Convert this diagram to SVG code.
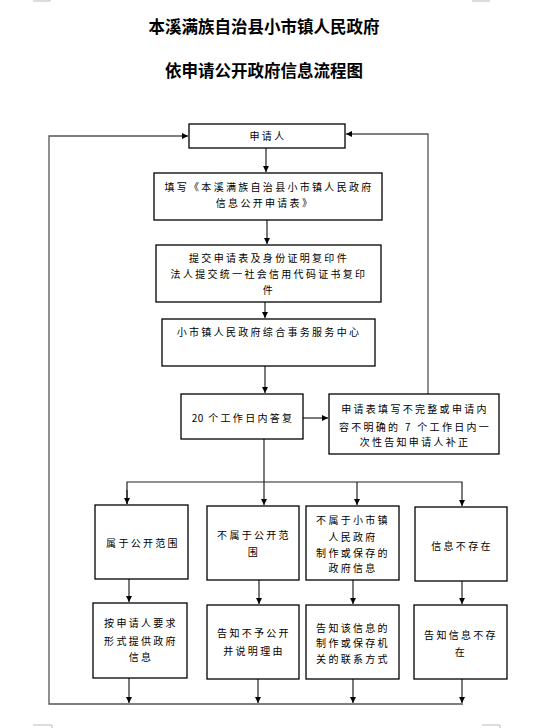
<svg xmlns="http://www.w3.org/2000/svg" width="534" height="728" viewBox="0 0 534 728">
<defs>
<marker id="ah" viewBox="0 0 10 10" refX="10" refY="5" markerWidth="6" markerHeight="6" markerUnits="userSpaceOnUse" orient="auto">
<path d="M0,0 L10,5 L0,10 z" fill="#000"/>
</marker>
<style>
.box{fill:#fff;stroke:#000;stroke-width:1.3}
.t{font-family:"Noto Sans CJK SC","DejaVu Sans",sans-serif;font-size:10px;letter-spacing:2.3px;fill:#000;text-anchor:middle}
.n{letter-spacing:0.5px}
.title{font-family:"Noto Sans CJK SC","DejaVu Sans",sans-serif;font-size:16.5px;font-weight:bold;fill:#000;text-anchor:middle}
.c{fill:none;stroke:#222;stroke-width:1.2}
.fb{fill:none;stroke:#555;stroke-width:1.3}
.mark{fill:none;stroke:#bbb;stroke-width:1}
</style>
</defs>
<rect width="534" height="728" fill="#fff"/>
<g id="marks">
<polyline class="mark" points="33,1 50,1 50,0"/>
<polyline class="mark" points="472,1 490,1"/>
<polyline class="mark" points="33,725 52,725 52,728"/>
<polyline class="mark" points="482,725 500,725 500,728"/>
</g>
<g id="title">
<text class="title" x="264" y="33">本溪满族自治县小市镇人民政府</text>
<text class="title" x="264" y="77">依申请公开政府信息流程图</text>
</g>
<g id="connectors">
<line class="c" x1="266" y1="148" x2="266" y2="172" marker-end="url(#ah)"/>
<line class="c" x1="267" y1="220" x2="267" y2="244" marker-end="url(#ah)"/>
<line class="c" x1="265" y1="302" x2="265" y2="318" marker-end="url(#ah)"/>
<line class="c" x1="265" y1="366" x2="265" y2="393" marker-end="url(#ah)"/>
<line class="c" x1="303" y1="418" x2="328" y2="418" marker-end="url(#ah)"/>
<polyline class="fb" points="428,394 428,134 346,134" marker-end="url(#ah)"/>
<polyline class="fb" points="463,704 49,704 49,136 188,136" marker-end="url(#ah)"/>
<line class="c" x1="264" y1="439" x2="264" y2="505" marker-end="url(#ah)"/>
<polyline class="c" points="127,504 127,482 462,482 462,506" marker-end="url(#ah)"/>
<line class="c" x1="127" y1="490" x2="127" y2="504" marker-end="url(#ah)"/>
<line class="c" x1="357" y1="482" x2="357" y2="505" marker-end="url(#ah)"/>
<line class="c" x1="129" y1="579" x2="129" y2="602" marker-end="url(#ah)"/>
<line class="c" x1="259" y1="580" x2="259" y2="604" marker-end="url(#ah)"/>
<line class="c" x1="353" y1="580" x2="353" y2="604" marker-end="url(#ah)"/>
<line class="c" x1="462" y1="581" x2="462" y2="604" marker-end="url(#ah)"/>
<line class="c" x1="129" y1="678" x2="129" y2="703" marker-end="url(#ah)"/>
<line class="c" x1="258" y1="679" x2="258" y2="703" marker-end="url(#ah)"/>
<line class="c" x1="353" y1="679" x2="353" y2="703" marker-end="url(#ah)"/>
<line class="c" x1="462" y1="679" x2="462" y2="703" marker-end="url(#ah)"/>
</g>
<g id="n-applicant">
<rect class="box" x="189" y="124" width="156" height="24"/>
<text class="t" x="268" y="140">申请人</text>
</g>
<g id="n-fill">
<rect class="box" x="154" y="173" width="228" height="47"/>
<text class="t" x="269" y="191">填写《本溪满族自治县小市镇人民政府</text>
<text class="t" x="265" y="207">信息公开申请表》</text>
</g>
<g id="n-submit">
<rect class="box" x="156" y="245" width="225" height="57"/>
<text class="t" x="269" y="262">提交申请表及身份证明复印件</text>
<text class="t" x="269" y="278">法人提交统一社会信用代码证书复印</text>
<text class="t" x="269" y="294">件</text>
</g>
<g id="n-center">
<rect class="box" x="162" y="319" width="213" height="47"/>
<text class="t" x="269" y="336">小市镇人民政府综合事务服务中心</text>
</g>
<g id="n-reply">
<rect class="box" x="181" y="394" width="122" height="45"/>
<text class="t" x="243" y="422"><tspan class="n">20</tspan> 个工作日内答复</text>
</g>
<g id="n-correct">
<rect class="box" x="329" y="394" width="170" height="60"/>
<text class="t" x="415" y="413">申请表填写不完整或申请内</text>
<text class="t" x="415" y="431">容不明确的 7 个工作日内一</text>
<text class="t" x="415" y="446">次性告知申请人补正</text>
</g>
<g id="n-public">
<rect class="box" x="95" y="505" width="93" height="74"/>
<text class="t" x="143" y="547">属于公开范围</text>
</g>
<g id="n-notpublic">
<rect class="box" x="207" y="506" width="92" height="74"/>
<text class="t" x="254" y="539">不属于公开范</text>
<text class="t" x="254" y="556">围</text>
</g>
<g id="n-notours">
<rect class="box" x="306" y="506" width="93" height="74"/>
<text class="t" x="353" y="524">不属于小市镇</text>
<text class="t" x="353" y="541">人民政府</text>
<text class="t" x="353" y="557">制作或保存的</text>
<text class="t" x="353" y="572">政府信息</text>
</g>
<g id="n-notexist">
<rect class="box" x="415" y="507" width="92" height="74"/>
<text class="t" x="462" y="550">信息不存在</text>
</g>
<g id="n-provide">
<rect class="box" x="93" y="603" width="94" height="75"/>
<text class="t" x="141" y="627">按申请人要求</text>
<text class="t" x="141" y="645">形式提供政府</text>
<text class="t" x="141" y="661">信息</text>
</g>
<g id="n-refuse">
<rect class="box" x="207" y="605" width="92" height="74"/>
<text class="t" x="254" y="637">告知不予公开</text>
<text class="t" x="254" y="655">并说明理由</text>
</g>
<g id="n-contact">
<rect class="box" x="306" y="605" width="93" height="74"/>
<text class="t" x="353" y="632">告知该信息的</text>
<text class="t" x="353" y="647">制作或保存机</text>
<text class="t" x="353" y="663">关的联系方式</text>
</g>
<g id="n-inform">
<rect class="box" x="414" y="605" width="93" height="74"/>
<text class="t" x="461" y="639">告知信息不存</text>
<text class="t" x="461" y="656">在</text>
</g>
</svg>
